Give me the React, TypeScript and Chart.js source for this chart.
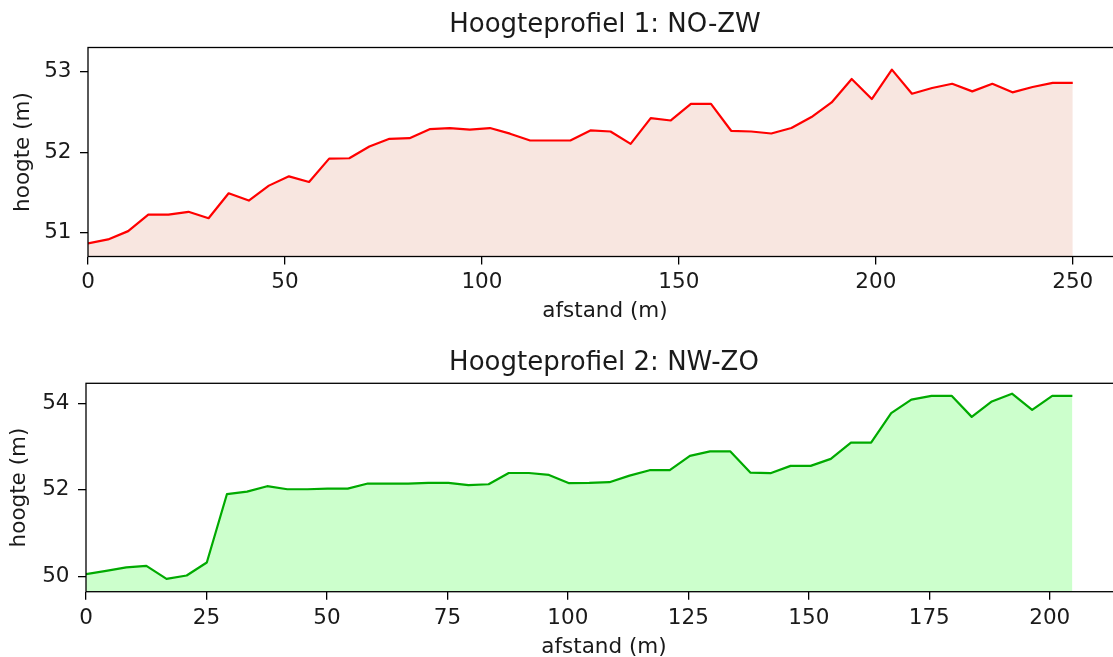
import React, { useEffect, useRef } from "react";
import { Chart, registerables } from "chart.js";

Chart.register(...registerables);

// ---- Data ----
const title1 = "Hoogteprofiel 1: NO-ZW";
const title2 = "Hoogteprofiel 2: NW-ZO";
const xLabel = "afstand (m)";
const yLabel = "hoogte (m)";

const distance1 = [
  0, 5.1, 10.2, 15.31, 20.41, 25.51, 30.61, 35.71, 40.82, 45.92,
  51.02, 56.12, 61.22, 66.33, 71.43, 76.53, 81.63, 86.73, 91.84, 96.94,
  102.04, 107.14, 112.24, 117.35, 122.45, 127.55, 132.65, 137.76, 142.86, 147.96,
  153.06, 158.16, 163.27, 168.37, 173.47, 178.57, 183.67, 188.78, 193.88, 198.98,
  204.08, 209.18, 214.29, 219.39, 224.49, 229.59, 234.69, 239.8, 244.9, 250.0,
];
const height1 = [
  50.867, 50.917, 51.02, 51.224, 51.224, 51.26, 51.18, 51.49, 51.4, 51.585,
  51.7, 51.63, 51.92, 51.925, 52.07, 52.166, 52.174, 52.286, 52.3, 52.28,
  52.3, 52.23, 52.145, 52.145, 52.145, 52.27, 52.257, 52.104, 52.423, 52.394,
  52.6, 52.6, 52.266, 52.257, 52.232, 52.3, 52.436, 52.618, 52.909, 52.66,
  53.025, 52.726, 52.797, 52.85, 52.755, 52.85, 52.743, 52.81, 52.86, 52.86,
];

const distance2 = [
  0, 4.18, 8.36, 12.53, 16.71, 20.89, 25.07, 29.24, 33.42, 37.6,
  41.78, 45.95, 50.13, 54.31, 58.49, 62.66, 66.84, 71.02, 75.2, 79.37,
  83.55, 87.73, 91.91, 96.08, 100.26, 104.44, 108.62, 112.8, 116.97, 121.15,
  125.33, 129.51, 133.68, 137.86, 142.04, 146.22, 150.39, 154.57, 158.75, 162.93,
  167.1, 171.28, 175.46, 179.64, 183.81, 187.99, 192.17, 196.35, 200.52, 204.7,
];
const height2 = [
  50.054, 50.13, 50.21, 50.246, 49.946, 50.023, 50.323, 51.9, 51.96, 52.085,
  52.015, 52.015, 52.03, 52.03, 52.146, 52.146, 52.146, 52.16, 52.16, 52.108,
  52.13, 52.39, 52.39, 52.346, 52.154, 52.16, 52.177, 52.33, 52.454, 52.454,
  52.785, 52.89, 52.89, 52.4, 52.385, 52.554, 52.554, 52.715, 53.09, 53.09,
  53.77, 54.085, 54.17, 54.17, 53.685, 54.04, 54.22, 53.846, 54.17, 54.17,
];

const xTicks1 = [0, 50, 100, 150, 200, 250];
const yTicks1 = [51, 52, 53];
const xTicks2 = [0, 25, 50, 75, 100, 125, 150, 175, 200];
const yTicks2 = [50, 52, 54];

const FONT = "'DejaVu Sans', sans-serif";
const TEXT = "#1a1a1a";

const framePlugin = {
  id: "frame",
  afterDraw(chart: any) {
    const { ctx, chartArea: a } = chart;
    ctx.save();
    ctx.strokeStyle = "#000";
    ctx.lineWidth = 1.3;
    ctx.strokeRect(a.left, a.top, a.right - a.left, a.bottom - a.top);
    ctx.restore();
  },
};

type Cfg = {
  title: string;
  xs: number[];
  ys: number[];
  xTicks: number[];
  yTicks: number[];
  xMax: number;
  yMin: number;
  yMax: number;
  line: string;
  fill: string;
  yAxisWidth: number;
  xAxisHeight: number;
  titlePadTop: number;
  titlePadBottom: number;
  yTitlePad: number;
};

function makeConfig(c: Cfg): any {
  return {
    type: "line",
    data: {
      datasets: [
        {
          data: c.xs.map((x, i) => ({ x, y: c.ys[i] })),
          borderColor: c.line,
          backgroundColor: c.fill,
          borderWidth: 2.2,
          pointRadius: 0,
          fill: "start",
          tension: 0,
          borderJoinStyle: "round",
        },
      ],
    },
    options: {
      responsive: false,
      animation: false,
      devicePixelRatio: 1,
      layout: { padding: 0 },
      plugins: {
        legend: { display: false },
        tooltip: { enabled: false },
        title: {
          display: true,
          text: c.title,
          color: TEXT,
          fullSize: false,
          font: { family: FONT, size: 26, weight: "normal" },
          padding: { top: c.titlePadTop, bottom: c.titlePadBottom },
        },
      },
      scales: {
        x: {
          type: "linear",
          min: 0,
          max: c.xMax,
          afterBuildTicks: (s: any) => {
            s.ticks = c.xTicks.map((v) => ({ value: v }));
          },
          afterFit: (s: any) => {
            s.height = c.xAxisHeight;
          },
          border: { display: false },
          grid: {
            drawOnChartArea: false,
            drawTicks: true,
            tickLength: 8,
            color: "#000",
            lineWidth: 1.3,
          },
          ticks: {
            color: TEXT,
            padding: 5.5,
            maxRotation: 0,
            font: { family: FONT, size: 21.5 },
          },
          title: {
            display: true,
            text: xLabel,
            color: TEXT,
            font: { family: FONT, size: 21.5 },
            padding: { top: 0, bottom: 0 },
          },
        },
        y: {
          type: "linear",
          min: c.yMin,
          max: c.yMax,
          afterBuildTicks: (s: any) => {
            s.ticks = c.yTicks.map((v) => ({ value: v }));
          },
          afterFit: (s: any) => {
            s.width = c.yAxisWidth;
          },
          border: { display: false },
          grid: {
            drawOnChartArea: false,
            drawTicks: true,
            tickLength: 8,
            color: "#000",
            lineWidth: 1.3,
          },
          ticks: {
            color: TEXT,
            padding: 8.5,
            font: { family: FONT, size: 21.5 },
          },
          title: {
            display: true,
            text: yLabel,
            color: TEXT,
            font: { family: FONT, size: 21.5 },
            padding: { top: c.yTitlePad, bottom: 0 },
          },
        },
      },
    },
    plugins: [framePlugin],
  };
}

export default function App() {
  const ref1 = useRef<HTMLCanvasElement>(null);
  const ref2 = useRef<HTMLCanvasElement>(null);

  useEffect(() => {
    const c1 = new Chart(
      ref1.current as HTMLCanvasElement,
      makeConfig({
        title: title1,
        xs: distance1,
        ys: height1,
        xTicks: xTicks1,
        yTicks: yTicks1,
        xMax: 262.5,
        yMin: 50.705,
        yMax: 53.3,
        line: "#ff0000",
        fill: "#f8e6e0",
        yAxisWidth: 88,
        xAxisHeight: 67.5,
        titlePadTop: 9.2,
        titlePadBottom: 7.1,
        yTitlePad: 10.4,
      })
    );
    const c2 = new Chart(
      ref2.current as HTMLCanvasElement,
      makeConfig({
        title: title2,
        xs: distance2,
        ys: height2,
        xTicks: xTicks2,
        yTicks: yTicks2,
        xMax: 215,
        yMin: 49.65,
        yMax: 54.46,
        line: "#00aa00",
        fill: "#ccffcc",
        yAxisWidth: 86,
        xAxisHeight: 68.3,
        titlePadTop: 17.5,
        titlePadBottom: 4.6,
        yTitlePad: 6.4,
      })
    );
    return () => {
      c1.destroy();
      c2.destroy();
    };
  }, []);

  return (
    <div
      style={{
        position: "fixed",
        left: 0,
        top: 0,
        width: 1113,
        height: 657,
        overflow: "hidden",
        background: "#fff",
      }}
    >
      <canvas
        ref={ref1}
        width={1122}
        height={324}
        style={{ position: "absolute", left: 0, top: 0 }}
      />
      <canvas
        ref={ref2}
        width={1122}
        height={330}
        style={{ position: "absolute", left: 0, top: 330 }}
      />
    </div>
  );
}
